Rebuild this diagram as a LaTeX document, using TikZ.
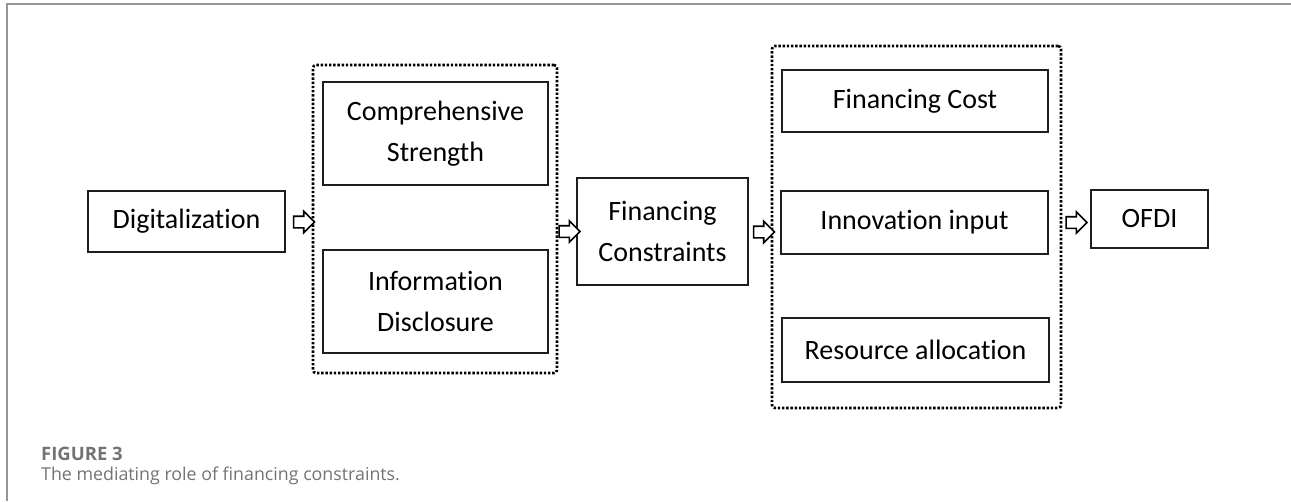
\documentclass[tikz,border=0pt]{standalone}
\usepackage{fontspec}
\setmainfont{Carlito}[Ligatures={NoCommon,NoContextual}]
\newfontfamily\capfont{Open Sans}
\usetikzlibrary{calc,positioning,shapes.arrows}

\definecolor{framegray}{RGB}{150,150,150}
\definecolor{capgray}{RGB}{115,115,115}
\definecolor{boxline}{RGB}{30,30,30}

\tikzset{
  box/.style={draw=boxline, line width=1.5pt, rectangle, inner sep=0pt, align=center,
    font=\fontsize{28}{41}\selectfont},
  group/.style={draw=black, line width=2.6pt, dash pattern=on 2.4pt off 1.8pt,
    rounded corners=3pt, inner sep=0pt},
  hollow/.style={single arrow, draw=black, line width=1.6pt, fill=white, inner sep=5pt,
    minimum height=21pt, single arrow head extend=5pt}
}

\begin{document}
\begin{tikzpicture}[x=1pt, y=-1pt]
  \useasboundingbox (0,0) rectangle (1291,501);
  % frame of the figure
  \draw[framegray, line width=1.2pt] (1291,4) -- (7,4) -- (7,501);

  % first column
  \node [box, minimum width=197pt, minimum height=61pt] (dig) at (186.5,221.5) {Digitalization};

  % first group
  \node [group, minimum width=244pt, minimum height=308pt] (grpA) at (435,219) {};
  \node [box, minimum width=225pt, minimum height=103pt] (cs) at (435.5,133.5) {Comprehensive\\Strength};
  \node [box, minimum width=225pt, minimum height=103pt] (id) at (435.5,301.5) {Information\\Disclosure};

  % mediator
  \node [box, minimum width=171pt, minimum height=107pt] (fc) at (662.5,231.5) {Financing\\Constraints};

  % second group
  \node [group, minimum width=289pt, minimum height=362pt] (grpB) at (916.5,227) {};
  \node [box, minimum width=266pt, minimum height=62pt] (cost) at (915,101) {Financing Cost};
  \node [box, minimum width=267pt, minimum height=63pt] (innov) at (914.5,222.5) {Innovation input};
  \node [box, minimum width=267pt, minimum height=64pt] (alloc) at (915.5,350) {Resource allocation};

  % outcome
  \node [box, minimum width=117pt, minimum height=58pt] (ofdi) at (1149.5,219) {OFDI};

  % hollow arrows between the stages
  \path ($(dig.east)+(7,0.5)$) node [hollow, anchor=tail] (a1) {};
  \path (grpA.east |- fc.west) node [hollow, anchor=tail] (a2) {};
  \path ($(fc.east)+(4,0.5)$) node [hollow, anchor=tail] (a3) {};
  \path ($(grpB.east |- innov.east)+(3,0)$) node [hollow, anchor=tail] (a4) {};

  % caption
  \node [anchor=base west, inner sep=0pt, text=capgray, font=\capfont\bfseries\fontsize{18.5}{20}\selectfont]
    (figno) at (41,460) {FIGURE 3};
  \node [anchor=base west, inner sep=0pt, text=capgray, font=\capfont\fontsize{17.8}{22}\selectfont]
    (figcap) at (41,480) {The mediating role of financing constraints.};
\end{tikzpicture}
\end{document}
